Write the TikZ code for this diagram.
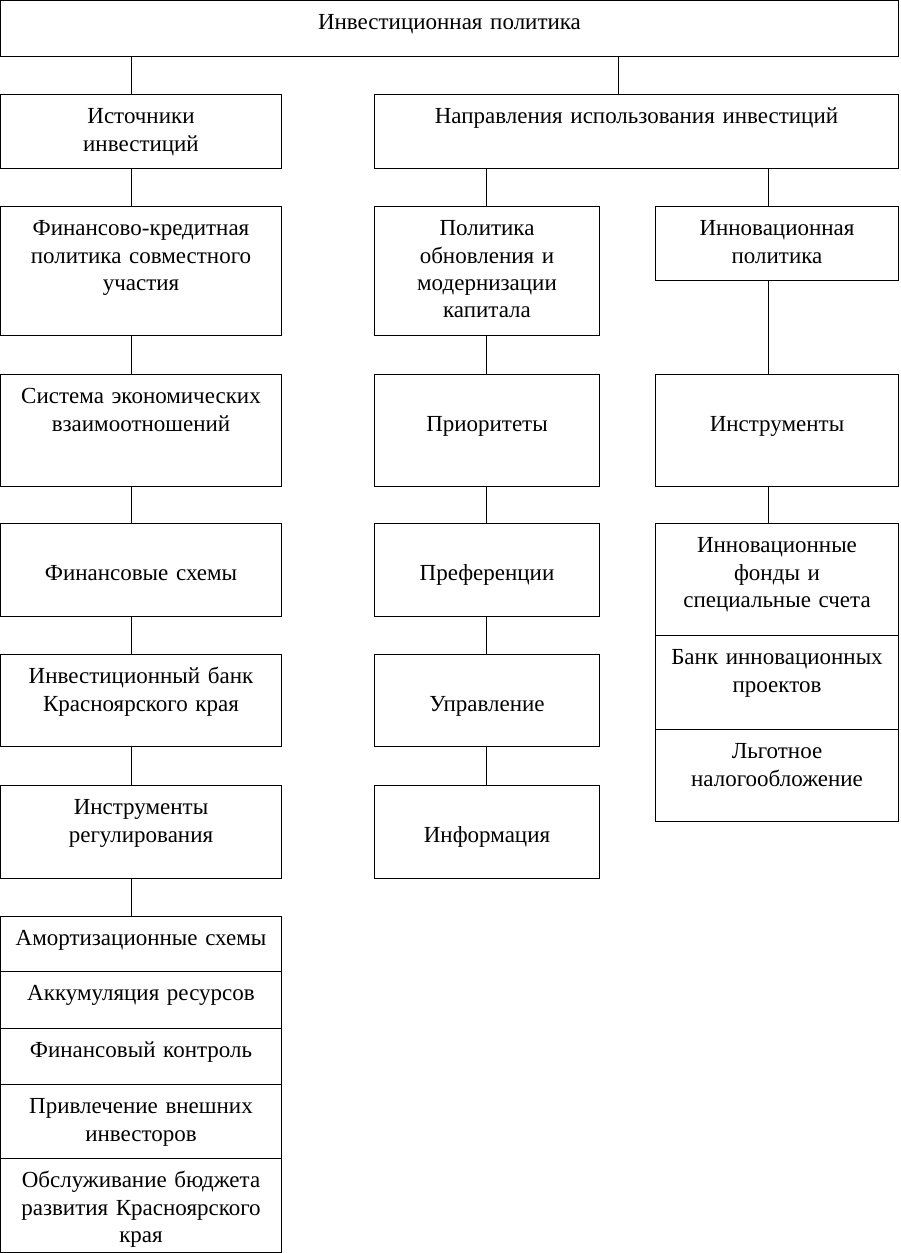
\documentclass[tikz,border=0pt]{standalone}
\usepackage{fontspec}
\setmainfont{Liberation Serif}
\newcommand\mainfs{\fontsize{23}{27.3}\selectfont}
\begin{document}
\begin{tikzpicture}[x=1pt,y=-1pt,
  box/.style={draw, line width=1.3pt, inner sep=0pt, outer sep=0pt, anchor=north west, align=center, font=\mainfs},
  link/.style={line width=1.3pt}]
\useasboundingbox (0,0) rectangle (900,1253);
% x positions of connectors
\coordinate (xl) at (131.5,0);
\coordinate (xt) at (618.5,0);
\coordinate (xm) at (486.5,0);
\coordinate (xr) at (768.5,0);
% top
\node[box, text width=898pt, text height=29.3pt, text depth=26.7pt] (top) at (0.5,0.5) {Инвестиционная политика};
% row 1
\node[box, text width=281pt, text height=29.3pt, text depth=44.7pt] (src) at (0.5,94.5) {Источники\\инвестиций};
\node[box, text width=524pt, text height=29.3pt, text depth=44.7pt] (dir) at (374.5,94.5) {Направления использования инвестиций};
% row 2
\node[box, text width=281pt, text height=29.3pt, text depth=99.7pt] (fin) at (0.5,206.5) {Финансово-кредитная\\политика совместного\\участия};
\node[box, text width=225pt, text height=29.3pt, text depth=99.7pt] (pol) at (374.5,206.5) {Политика\\обновления и\\модернизации\\капитала};
\node[box, text width=243pt, text height=29.3pt, text depth=44.7pt] (inn) at (655.5,206.5) {Инновационная\\политика};
% row 3
\node[box, text width=281pt, text height=29.3pt, text depth=82.7pt] (sys) at (0.5,374.5) {Система экономических\\взаимоотношений};
\node[box, text width=225pt, text height=56.6pt, text depth=55.4pt] (pri) at (374.5,374.5) {Приоритеты};
\node[box, text width=243pt, text height=56.6pt, text depth=55.4pt] (ins) at (655.5,374.5) {Инструменты};
% row 4
\node[box, text width=281pt, text height=56.6pt, text depth=36.4pt] (fs) at (0.5,523.5) {Финансовые схемы};
\node[box, text width=225pt, text height=56.6pt, text depth=36.4pt] (pref) at (374.5,523.5) {Преференции};
\node[box, text width=243pt, text height=29.3pt, text depth=82.7pt] (rs1) at (655.5,523.5) {Инновационные\\фонды и\\специальные счета};
\node[box, text width=243pt, text height=29.3pt, text depth=64.7pt] (rs2) at (655.5,635.5) {Банк инновационных\\проектов};
\node[box, text width=243pt, text height=29.3pt, text depth=62.7pt] (rs3) at (655.5,729.5) {Льготное\\налогообложение};
% row 5
\node[box, text width=281pt, text height=29.3pt, text depth=62.7pt] (ib) at (0.5,654.5) {Инвестиционный банк\\Красноярского края};
\node[box, text width=225pt, text height=56.6pt, text depth=35.4pt] (upr) at (374.5,654.5) {Управление};
% row 6
\node[box, text width=281pt, text height=29.3pt, text depth=63.7pt] (ir) at (0.5,785.5) {Инструменты\\регулирования};
\node[box, text width=225pt, text height=56.6pt, text depth=36.4pt] (info) at (374.5,785.5) {Информация};
% left stack
\node[box, text width=281pt, text height=29.3pt, text depth=25.7pt] (ls1) at (0.5,916.5) {Амортизационные схемы};
\node[box, text width=281pt, text height=29.3pt, text depth=27.7pt] (ls2) at (0.5,971.5) {Аккумуляция ресурсов};
\node[box, text width=281pt, text height=29.3pt, text depth=26.7pt] (ls3) at (0.5,1028.5) {Финансовый контроль};
\node[box, text width=281pt, text height=29.3pt, text depth=44.7pt] (ls4) at (0.5,1084.5) {Привлечение внешних\\инвесторов};
\node[box, text width=281pt, text height=29.3pt, text depth=64.7pt] (ls5) at (0.5,1158.5) {Обслуживание бюджета\\развития Красноярского\\края};
% connectors
\draw[link] (top.south -| xl) -- (src.north -| xl);
\draw[link] (top.south -| xt) -- (dir.north -| xt);
\draw[link] (src.south -| xl) -- (fin.north -| xl);
\draw[link] (dir.south -| xm) -- (pol.north -| xm);
\draw[link] (dir.south -| xr) -- (inn.north -| xr);
\draw[link] (fin.south -| xl) -- (sys.north -| xl);
\draw[link] (pol.south -| xm) -- (pri.north -| xm);
\draw[link] (inn.south -| xr) -- (ins.north -| xr);
\draw[link] (sys.south -| xl) -- (fs.north -| xl);
\draw[link] (pri.south -| xm) -- (pref.north -| xm);
\draw[link] (ins.south -| xr) -- (rs1.north -| xr);
\draw[link] (fs.south -| xl) -- (ib.north -| xl);
\draw[link] (pref.south -| xm) -- (upr.north -| xm);
\draw[link] (ib.south -| xl) -- (ir.north -| xl);
\draw[link] (upr.south -| xm) -- (info.north -| xm);
\draw[link] (ir.south -| xl) -- (ls1.north -| xl);
\end{tikzpicture}
\end{document}
